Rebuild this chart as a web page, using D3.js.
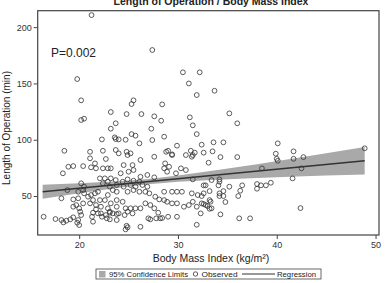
<!DOCTYPE html>
<html>
<head>
<meta charset="utf-8">
<script src="https://cdn.jsdelivr.net/npm/d3@7"></script>
<style>
  body { margin: 0; background: #fff; }
  svg { display: block; font-family: "Liberation Sans", Arial, sans-serif; }
</style>
</head>
<body>
<div id="chart"></div>
<script>
// observed points (BMI, minutes)
const bmi = [
  21.25, 27.4, 19.8, 30.5, 32.2, 31.1, 20.2, 25.5, 25.3, 28.4, 31.9, 23.2, 24.8, 26.3, 27.6, 28.3,
  20.2, 20.5, 23.7, 23.2, 25.3, 25.7, 27.3, 28.6, 31.2, 31.5, 31.9, 22.3, 23.7, 24.0, 24.7,
  33.7, 35.2, 36.0, 32.4, 33.6, 34.6, 33.5, 34.3, 36.0, 33.1, 40.1, 39.9, 40.0, 40.1, 41.7, 41.7,
  42.7, 48.9, 38.5, 42.5, 41.6, 33.4, 34.2, 34.2, 32.6, 32.8, 34.1, 35.2, 36.5, 38.0, 38.0, 38.4,
  38.9, 39.4, 33.2, 34.6, 36.3, 32.4, 34.2, 34.6, 36.1, 33.3, 34.8, 32.6, 32.8, 33.0, 33.2, 42.4,
  34.3, 36.2, 37.3,
  16.4, 17.6, 18.2, 18.4, 18.7, 19.1, 19.4, 19.9, 20.0, 19.8, 20.2, 20.1, 21.3, 21.4, 21.4, 21.9,
  22.3, 22.8, 23.1, 23.8, 24.6, 24.8, 24.9, 24.7, 26.2, 27.0, 27.2, 27.8, 28.2, 28.4, 29.0, 29.9,
  28.0, 31.9, 32.3, 23.1, 23.8,
  18.35, 18.9, 19.4, 20.4, 21.2, 21.1, 22.7, 21.1, 21.6, 21.7, 22.4, 22.9, 23.2, 18.2, 18.8, 19.4,
  19.9, 19.9, 20.4, 19.4, 19.7, 20.0, 20.4, 20.5, 20.9, 21.2, 21.6, 21.9, 21.1, 21.4, 21.7, 22.1,
  21.7, 22.2, 22.7, 23.1, 23.4, 22.1, 22.6, 22.9, 23.2, 22.4, 23.1, 23.4, 22.9, 22.6, 23.2, 22.2,
  22.9, 20.2, 20.5,
  24.0, 24.9, 25.2, 26.2, 27.6, 29.4, 30.8, 24.5, 25.4, 25.5, 25.0, 24.2, 28.7, 29.1, 28.6, 28.9,
  29.8, 30.3, 30.8, 26.2, 26.9, 27.6, 23.7, 24.4, 24.9, 25.5, 26.1, 23.8, 24.5, 25.2, 25.7, 26.4,
  26.9, 23.8, 24.9, 25.5, 26.1, 26.7, 27.1, 28.6, 29.4, 29.9, 30.4, 27.7, 28.1, 28.6, 28.9, 29.4,
  29.9, 30.6, 31.1, 23.8, 24.4, 23.8, 24.7, 25.2, 25.7, 26.2, 26.7, 27.2, 27.6, 24.0, 24.9, 25.4,
  31.5, 31.5, 31.4, 32.0, 32.6, 34.2, 31.5, 31.9, 32.4, 33.2, 33.4,
  23.6, 26.1, 18.5, 22.4, 23.7, 24.8, 27.4, 29.9, 29.0, 31.3,
  28.8, 29.4, 31.4, 31.7, 32.6
];
const minutes = [
  210.7, 179.7, 153.9, 159.9, 159.9, 150.0, 135.0, 135.0, 131.7, 131.4, 139.7, 124.6, 122.8, 122.8, 120.8, 116.9,
  117.5, 118.7, 114.6, 109.8, 105.0, 103.6, 109.8, 102.7, 119.9, 112.8, 105.0, 100.3, 100.6, 100.3, 100.0,
  143.5, 123.4, 114.6, 95.6, 97.7, 97.7, 89.7, 84.6, 84.6, 79.6, 96.8, 87.6, 83.1, 81.3, 89.7, 83.1,
  84.6, 92.4, 74.6, 74.6, 65.7, 64.2, 64.8, 62.7, 59.5, 59.5, 59.5, 58.3, 59.5, 60.7, 56.5, 59.5,
  59.5, 61.8, 54.4, 54.4, 54.7, 50.0, 50.0, 50.0, 50.0, 45.0, 44.7, 42.9, 42.0, 41.1, 38.7, 39.3,
  33.7, 30.2, 30.2,
  31.6, 29.6, 28.7, 26.6, 28.1, 29.3, 31.1, 28.7, 24.2, 26.3, 33.1, 36.1, 31.6, 27.2, 35.2, 34.6,
  31.6, 30.2, 29.3, 28.7, 33.1, 23.6, 22.2, 20.4, 22.7, 30.2, 29.3, 30.2, 30.2, 30.5, 31.6, 31.6,
  35.2, 24.5, 34.6, 35.2, 34.0,
  70.2, 76.0, 76.6, 76.6, 75.5, 89.3, 82.9, 83.5, 79.0, 74.6, 74.6, 74.6, 74.6, 48.0, 55.3, 47.0,
  48.0, 53.8, 55.3, 40.5, 42.0, 39.1, 43.5, 52.4, 49.4, 50.9, 52.4, 53.8, 43.5, 46.4, 42.0, 46.4,
  38.2, 34.6, 33.1, 36.1, 34.6, 65.7, 65.7, 62.7, 65.7, 61.3, 58.3, 55.3, 50.9, 46.4, 43.5, 40.5,
  39.1, 61.3, 58.3,
  87.9, 86.4, 87.9, 82.0, 84.9, 86.4, 86.4, 77.5, 77.5, 73.1, 71.6, 70.2, 79.0, 76.0, 74.6, 71.6,
  70.2, 74.6, 73.1, 67.1, 68.7, 66.6, 64.2, 62.7, 64.8, 63.6, 62.7, 59.8, 58.3, 59.8, 58.3, 59.8,
  58.3, 53.8, 53.8, 55.3, 53.8, 53.8, 52.4, 53.8, 53.8, 53.8, 53.8, 49.4, 47.0, 46.4, 44.9, 43.5,
  43.5, 40.5, 42.0, 46.4, 44.9, 40.5, 39.1, 39.1, 39.1, 39.1, 43.5, 42.0, 39.1, 34.6, 36.1, 34.6,
  86.4, 64.8, 52.4, 50.9, 52.4, 52.4, 44.9, 40.5, 43.5, 46.4, 39.1,
  102.1, 96.8, 90.2, 90.2, 90.9, 89.3, 99.7, 94.7, 90.2, 90.2,
  89.3, 87.0, 84.9, 88.5, 88.5
];

// regression line and 95% band
const regBmi = [16.3, 48.9];
const regMin = [53.8, 81.4];
const bandBmi = [16.3, 20, 24, 27, 30, 34, 38, 42, 45, 48.9];
const bandLo = [47.6, 52.5, 57.4, 60.4, 62.6, 64.5, 66.0, 67.3, 68.2, 69.2];
const bandHi = [60.0, 61.3, 63.2, 65.2, 68.2, 73.1, 78.2, 83.7, 88.0, 93.6];

const xTicks = [20, 30, 40, 50];
const yTicks = [50, 100, 150, 200];
const legendLabels = ["95% Confidence Limits", "Observed", "Regression"];

const W = 386, H = 283;
const plotL = 37.7, plotR = 379, plotT = 10.7, plotB = 235;

const svg = d3.select("#chart").append("svg")
    .attr("width", W)
    .attr("height", H);

const x = d3.scaleLinear().domain([15.8, 50.35]).range([plotL, plotR]);
const y = d3.scaleLinear().domain([15.4, 214.6]).range([plotB, plotT]);

// title, sits half outside the top like in the original
svg.append("text")
    .attr("x", 211).attr("y", 5)
    .attr("text-anchor", "middle")
    .attr("font-size", 10.5).attr("font-weight", "bold")
    .attr("fill", "#222")
    .text("Length of Operation / Body Mass Index");

// confidence band
const bandData = bandBmi.map((b, i) => ({ b: b, lo: bandLo[i], hi: bandHi[i] }));
svg.append("path")
    .datum(bandData)
    .attr("fill", "#a9a9a9")
    .attr("d", d3.area().x(d => x(d.b)).y0(d => y(d.lo)).y1(d => y(d.hi)));

// points
const pts = bmi.map((b, i) => ({ b: b, m: minutes[i] }));
svg.append("g").selectAll("circle")
    .data(pts)
    .enter().append("circle")
    .attr("cx", d => x(d.b))
    .attr("cy", d => y(d.m))
    .attr("r", 2.4)
    .attr("fill", "none")
    .attr("stroke", "#333")
    .attr("stroke-width", 0.8);

// regression line
svg.append("path")
    .datum(regBmi.map((b, i) => ({ b: b, m: regMin[i] })))
    .attr("fill", "none")
    .attr("stroke", "#333")
    .attr("stroke-width", 1.6)
    .attr("d", d3.line().x(d => x(d.b)).y(d => y(d.m)));

// frame
svg.append("rect")
    .attr("x", plotL).attr("y", plotT)
    .attr("width", plotR - plotL).attr("height", plotB - plotT)
    .attr("fill", "none")
    .attr("stroke", "#444")
    .attr("stroke-width", 1.2);

// axes
const yAxis = svg.append("g")
    .attr("transform", `translate(${plotL},0)`)
    .call(d3.axisLeft(y).tickValues(yTicks).tickSize(4).tickPadding(2));
const xAxis = svg.append("g")
    .attr("transform", `translate(0,${plotB})`)
    .call(d3.axisBottom(x).tickValues(xTicks).tickSize(4).tickPadding(3));
[yAxis, xAxis].forEach(a => {
    a.select(".domain").remove();
    a.selectAll("line").attr("stroke", "#444");
    a.selectAll("text").attr("font-size", 9).attr("fill", "#333")
        .attr("font-family", "Liberation Sans, Arial, sans-serif");
});

// axis titles
svg.append("text")
    .attr("transform", "translate(10,128) rotate(-90)")
    .attr("text-anchor", "middle")
    .attr("font-size", 10).attr("fill", "#222")
    .text("Length of Operation (min)");
svg.append("text")
    .attr("x", 211).attr("y", 262)
    .attr("text-anchor", "middle")
    .attr("font-size", 10.5).attr("fill", "#222")
    .text("Body Mass Index (kg/m²)");

// P value
svg.append("text")
    .attr("x", 51).attr("y", 57)
    .attr("font-size", 12).attr("fill", "#222")
    .text("P=0.002");

// legend
const lg = svg.append("g").attr("font-size", 8).attr("fill", "#222");
lg.append("rect")
    .attr("x", 96).attr("y", 269).attr("width", 225).attr("height", 10)
    .attr("fill", "#fff").attr("stroke", "#444").attr("stroke-width", 0.8);
lg.append("rect")
    .attr("x", 99).attr("y", 271).attr("width", 6.5).attr("height", 6.5)
    .attr("fill", "#a9a9a9");
lg.append("text").attr("x", 109).attr("y", 277)
    .attr("textLength", 79).attr("lengthAdjust", "spacingAndGlyphs")
    .text(legendLabels[0]);
lg.append("circle")
    .attr("cx", 195.5).attr("cy", 274).attr("r", 2.2)
    .attr("fill", "none").attr("stroke", "#333").attr("stroke-width", 0.8);
lg.append("text").attr("x", 201.5).attr("y", 277)
    .attr("textLength", 36).attr("lengthAdjust", "spacingAndGlyphs")
    .text(legendLabels[1]);
lg.append("line")
    .attr("x1", 242).attr("x2", 275).attr("y1", 274).attr("y2", 274)
    .attr("stroke", "#333").attr("stroke-width", 1);
lg.append("text").attr("x", 277).attr("y", 277)
    .attr("textLength", 39).attr("lengthAdjust", "spacingAndGlyphs")
    .text(legendLabels[2]);
</script>
</body>
</html>
